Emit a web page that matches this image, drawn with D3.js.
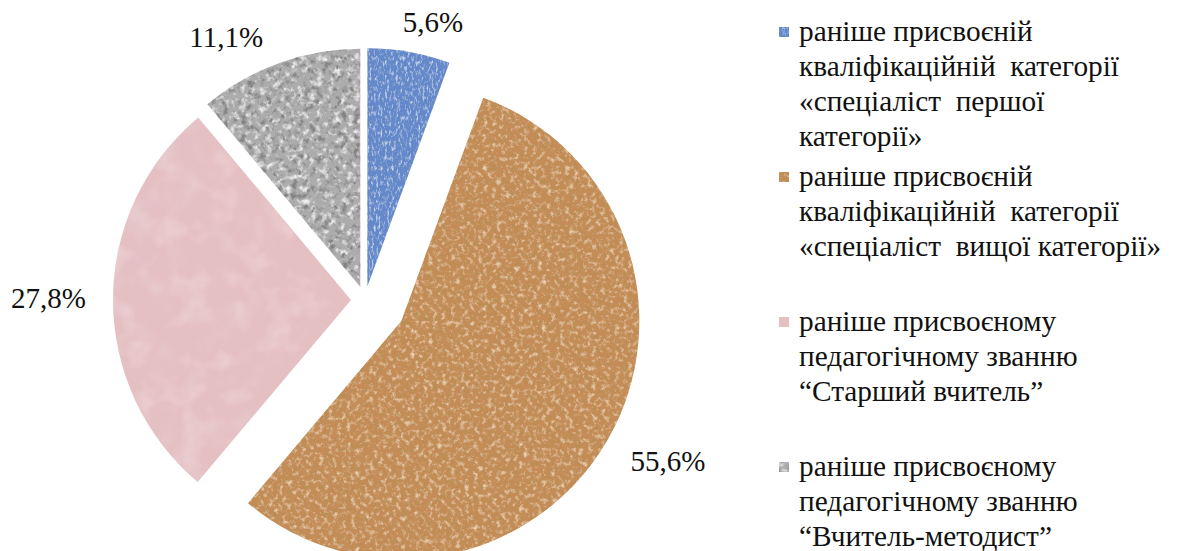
<!DOCTYPE html>
<html>
<head>
<meta charset="utf-8">
<script src="https://cdn.jsdelivr.net/npm/d3@7/dist/d3.min.js"></script>
<style>
  html, body { margin: 0; padding: 0; background: #ffffff; }
  svg { display: block; }
</style>
</head>
<body>
<svg id="chart" width="1178" height="551"></svg>
<script>
// ---- data ----
const categories = [
  "раніше присвоєній кваліфікаційній категорії «спеціаліст першої категорії»",
  "раніше присвоєній кваліфікаційній категорії «спеціаліст вищої категорії»",
  "раніше присвоєному педагогічному званню “Старший вчитель”",
  "раніше присвоєному педагогічному званню “Вчитель-методист”"
];
const values = [5.6, 55.6, 27.8, 11.1];
const valueLabels = ["5,6%", "55,6%", "27,8%", "11,1%"];
const legendLines = [
  ["раніше присвоєній", "кваліфікаційній  категорії", "«спеціаліст  першої", "категорії»"],
  ["раніше присвоєній", "кваліфікаційній  категорії", "«спеціаліст  вищої категорії»"],
  ["раніше присвоєному", "педагогічному званню", "“Старший вчитель”"],
  ["раніше присвоєному", "педагогічному званню", "“Вчитель-методист”"]
];

// ---- styles ----
const FONT = "'Liberation Serif', 'Times New Roman', 'DejaVu Serif', serif";
const baseColors = ["#6388cc", "#c48c56", "#e5c0c3", "#acacac"];
const darkColors = ["#22407e", "#7a4618", "#c9a0a5", "#3a3a3a"];
const lightColors = ["#a9c3ee", "#dcab74", "#edd0d3", "#dedede"];
const noiseFreq = ["0.45 0.2", "0.22", "0.035", "0.16"];
const darkGain = [3.2, 3.2, 1.2, 3.8];
const lightGain = [2.6, 2.6, 0.9, 3.0];
const explode = [14, 42, 14, 14];
const labelNudge = [[14, 12], [5, -1], [0, -2], [-31, 14]];

const svg = d3.select("#chart");
const cx = 365, cy = 300, R = 238;
const fontSize = 29;
const legendFontSize = 29.3;

// texture filters
const defs = svg.append("defs");
values.forEach((v, i) => {
  const f = defs.append("filter").attr("id", "tex" + i)
    .attr("x", "0%").attr("y", "0%").attr("width", "100%").attr("height", "100%");
  f.append("feTurbulence").attr("type", "fractalNoise")
    .attr("baseFrequency", noiseFreq[i]).attr("numOctaves", 3).attr("seed", 7 + i).attr("result", "n");
  const dc = d3.color(darkColors[i]), lc = d3.color(lightColors[i]);
  const dg = darkGain[i], lg = lightGain[i];
  f.append("feColorMatrix").attr("in", "n").attr("type", "matrix")
    .attr("values", `0 0 0 0 ${dc.r/255} 0 0 0 0 ${dc.g/255} 0 0 0 0 ${dc.b/255} ${dg} 0 0 0 ${-dg*0.5}`)
    .attr("result", "dk");
  f.append("feColorMatrix").attr("in", "n").attr("type", "matrix")
    .attr("values", `0 0 0 0 ${lc.r/255} 0 0 0 0 ${lc.g/255} 0 0 0 0 ${lc.b/255} 0 ${-lg} 0 0 ${lg*0.5}`)
    .attr("result", "lt");
  f.append("feComposite").attr("in", "dk").attr("in2", "SourceAlpha").attr("operator", "in").attr("result", "dkc");
  f.append("feComposite").attr("in", "lt").attr("in2", "SourceAlpha").attr("operator", "in").attr("result", "ltc");
  const m = f.append("feMerge");
  m.append("feMergeNode").attr("in", "SourceGraphic");
  m.append("feMergeNode").attr("in", "ltc");
  m.append("feMergeNode").attr("in", "dkc");
});

const pie = d3.pie().sort(null).value(d => d);
const arcs = pie(values);
const arc = d3.arc().innerRadius(0).outerRadius(R);

const g = svg.append("g").attr("transform", `translate(${cx},${cy})`);

arcs.forEach((a, i) => {
  const mid = (a.startAngle + a.endAngle) / 2;
  const ox = Math.sin(mid) * explode[i], oy = -Math.cos(mid) * explode[i];
  const sg = g.append("g").attr("transform", `translate(${ox},${oy})`);
  sg.append("path").attr("d", arc(a)).attr("fill", baseColors[i]).attr("filter", `url(#tex${i})`);

  // label outside end
  const t = sg.append("text").attr("font-family", FONT).attr("fill", "#111")
    .attr("font-size", fontSize).attr("text-anchor", "middle")
    .attr("dominant-baseline", "central").text(valueLabels[i]);
  const bb = t.node().getBBox();
  const gap = 27;
  let lx = Math.sin(mid) * (R + gap) + Math.sin(mid) * bb.width / 2;
  let ly = -Math.cos(mid) * (R + gap) - Math.cos(mid) * bb.height / 2;
  t.attr("x", lx + labelNudge[i][0]).attr("y", ly + labelNudge[i][1]);
});

// legend
const legendX = 779, textX = 799, lineH = 35;
const legendY = d3.scalePoint().domain(d3.range(categories.length)).range([41, 476]);
const lg = svg.append("g");
legendLines.forEach((lines, i) => {
  const y0 = legendY(i);
  lg.append("rect").attr("x", legendX).attr("y", y0 - 14).attr("width", 10).attr("height", 10)
    .attr("fill", baseColors[i]).attr("filter", `url(#tex${i})`);
  const t = lg.append("text").attr("x", textX).attr("y", y0)
    .attr("font-family", FONT).attr("fill", "#111").attr("font-size", legendFontSize)
    .style("white-space", "pre");
  lines.forEach((ln, j) => {
    t.append("tspan").attr("x", textX).attr("y", y0 + j * lineH).text(ln);
  });
});
</script>
</body>
</html>
